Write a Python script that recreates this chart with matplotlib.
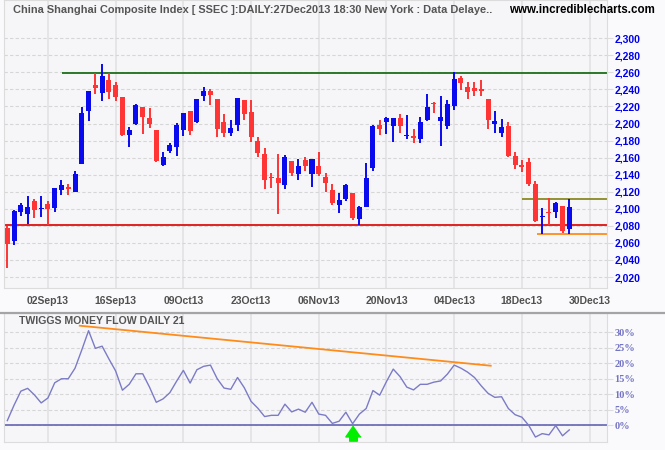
import matplotlib
matplotlib.use('Agg')
import matplotlib.pyplot as plt
from matplotlib.lines import Line2D

# Daily OHLC, SSEC 23Aug13 .. 27Dec13 (one entry per trading day)
opens = [2077.5, 2062.6, 2096.7, 2094.3, 2109.2, 2099.2, 2105.7, 2101.4, 2122.5, 2126.0,
         2120.1, 2153.0, 2215.1, 2245.2, 2236.3, 2251.1, 2245.2, 2230.8, 2187.0, 2199.9,
         2219.4, 2206.5, 2192.5, 2151.4, 2168.2, 2172.9, 2192.9, 2214.7, 2202.2, 2232.7,
         2238.2, 2228.8, 2201.8, 2189.3, 2198.7, 2227.6, 2213.6, 2179.6, 2164.3, 2136.4,
         2136.2, 2128.3, 2156.1, 2140.8, 2157.3, 2140.8, 2150.2, 2137.3, 2122.1, 2104.5,
         2111.5, 2118.6, 2088.1, 2102.5, 2148.3, 2198.3, 2201.8, 2197.2, 2206.5, 2185.6,
         2185.4, 2182.3, 2204.6, 2224.0, 2203.0, 2197.2, 2221.0, 2253.5, 2242.9, 2241.7,
         2240.6, 2228.8, 2199.5, 2188.9, 2197.2, 2162.0, 2151.4, 2154.9, 2129.1, 2089.8,
         2095.4, 2096.7, 2103.3, 2076.3]
highs = [2080.3, 2098.6, 2106.8, 2115.0, 2111.5, 2115.0, 2109.2, 2124.4, 2133.8, 2129.1,
         2144.4, 2219.4, 2238.2, 2258.9, 2269.9, 2258.9, 2248.8, 2230.8, 2195.6, 2223.0,
         2219.4, 2217.9, 2192.5, 2166.7, 2177.2, 2200.7, 2212.4, 2214.7, 2228.8, 2243.3,
         2240.6, 2228.8, 2211.2, 2204.2, 2230.0, 2227.6, 2227.6, 2184.2, 2171.3, 2142.0,
         2164.3, 2163.1, 2156.1, 2158.4, 2160.8, 2158.4, 2166.7, 2142.0, 2129.1, 2118.6,
         2129.1, 2118.6, 2103.3, 2153.8, 2198.3, 2204.2, 2207.7, 2206.5, 2211.2, 2210.1,
         2193.6, 2207.7, 2234.7, 2225.7, 2232.3, 2227.6, 2260.5, 2255.8, 2248.8, 2248.8,
         2251.1, 2228.8, 2214.7, 2205.4, 2201.8, 2166.7, 2157.3, 2159.6, 2132.6, 2101.0,
         2112.7, 2108.0, 2103.3, 2111.5]
lows = [2031.0, 2057.6, 2092.0, 2082.6, 2089.6, 2090.8, 2081.0, 2096.3, 2116.2, 2116.6,
        2120.1, 2153.0, 2203.4, 2234.3, 2226.9, 2229.2, 2226.9, 2185.8, 2172.9, 2198.7,
        2188.2, 2195.2, 2155.3, 2150.2, 2165.9, 2162.3, 2185.8, 2187.0, 2201.0, 2226.9,
        2222.2, 2184.6, 2184.6, 2185.8, 2191.7, 2204.6, 2178.8, 2161.2, 2123.6, 2124.8,
        2094.3, 2123.6, 2138.9, 2134.2, 2144.8, 2126.0, 2138.9, 2120.1, 2104.5, 2095.1,
        2109.2, 2086.9, 2081.0, 2102.5, 2144.8, 2187.0, 2188.2, 2178.8, 2189.3, 2182.3,
        2177.2, 2177.6, 2203.4, 2212.8, 2173.7, 2193.6, 2216.3, 2239.4, 2228.8, 2232.3,
        2232.3, 2194.0, 2188.9, 2184.3, 2160.8, 2146.7, 2143.2, 2126.8, 2084.5, 2070.1,
        2081.0, 2089.6, 2071.6, 2070.5]
closes = [2059.1, 2097.4, 2104.5, 2102.1, 2098.6, 2099.6, 2100.2, 2124.4, 2127.9, 2123.6,
          2140.8, 2212.4, 2238.2, 2242.1, 2255.8, 2237.4, 2231.6, 2187.0, 2192.5, 2221.8,
          2208.1, 2199.9, 2156.5, 2160.8, 2174.9, 2198.3, 2212.4, 2191.7, 2228.8, 2238.2,
          2233.9, 2194.0, 2189.3, 2194.8, 2230.0, 2211.6, 2184.6, 2165.9, 2134.2, 2136.0,
          2130.7, 2160.8, 2142.4, 2150.2, 2150.2, 2158.4, 2140.8, 2130.7, 2106.8, 2110.3,
          2127.9, 2089.2, 2102.1, 2136.2, 2197.2, 2194.0, 2206.5, 2206.5, 2197.2, 2186.0,
          2183.5, 2201.8, 2219.4, 2223.0, 2207.7, 2223.0, 2252.3, 2247.6, 2237.0, 2238.6,
          2238.2, 2204.2, 2203.0, 2196.0, 2162.0, 2151.4, 2149.1, 2129.1, 2085.7, 2090.6,
          2094.8, 2106.8, 2074.0, 2102.1]

# Twiggs Money Flow (21), percent
tmf = [1.5, 6.5, 11.0, 11.9, 9.8, 7.2, 8.8, 13.7, 15.0, 15.0,
       18.4, 24.3, 30.5, 24.8, 25.5, 21.4, 17.5, 11.3, 13.2, 16.6,
       16.6, 12.3, 7.4, 8.5, 10.5, 14.2, 17.7, 13.6, 17.9, 19.0,
       19.4, 15.0, 12.0, 11.6, 15.4, 12.1, 7.7, 5.5, 2.8, 3.2,
       3.2, 6.8, 4.3, 5.2, 4.2, 7.4, 3.6, 3.2, 0.6, 1.3,
       4.2, 0.5, 3.6, 5.4, 11.2, 9.7, 14.1, 18.1, 15.7, 12.3,
       11.4, 13.2, 13.2, 13.9, 14.3, 16.5, 19.4, 18.4, 17.1, 15.4,
       12.7, 10.3, 9.0, 9.2, 5.4, 3.4, 2.6, 0.0, -3.8, -2.7,
       -3.1, -0.1, -3.4, -1.5]

date_ticks = [6, 16, 26, 36, 46, 56, 66, 76, 86]
date_labels = ['02Sep13', '16Sep13', '09Oct13', '23Oct13', '06Nov13',
               '20Nov13', '04Dec13', '18Dec13', '30Dec13']
price_ticks = list(range(2020, 2301, 20))
pct_ticks = [0, 5, 10, 15, 20, 25, 30]

# support / resistance lines: (level, first bar)
resistance = (2259.5, 8.1)
support = (2081.0, -0.5)
range_top = (2111.0, 76.0)
range_bottom = (2070.0, 78.2)
# declining TMF peaks
tmf_trend_x = [10.7, 71.4]
tmf_trend_y = [32.1, 19.2]
signal_bar, signal_val = 51, -2.5

UP, DOWN = '#0a0aee', '#ff3434'
XL = (-0.49, 88.57)

plt.rcParams['font.family'] = ['Liberation Sans', 'DejaVu Sans']
fig = plt.figure(figsize=(6.65, 4.5), dpi=100, facecolor='#fafafc')
ax = fig.add_axes([4/665, 1 - 288/450, 603/665, 288/450], facecolor='#f6f6f9')
ax2 = fig.add_axes([4/665, 1 - 442/450, 603/665, 129/450], facecolor='#f6f6f9')

# candles
for i in range(len(opens)):
    o, h, l, c = opens[i], highs[i], lows[i], closes[i]
    col = UP if c >= o else DOWN
    ax.vlines(i, l, h, color=col, lw=1.4, zorder=3)
    ax.bar(i, max(abs(c - o), 1.3), bottom=min(o, c), width=0.74,
           color=col, linewidth=0, zorder=4)

ax.hlines(resistance[0], resistance[1], XL[1], color='#1a6e1a', lw=1.3, zorder=2)
ax.hlines(support[0], support[1], XL[1], color='#dd1111', lw=1.3, zorder=2)
ax.hlines(range_top[0], range_top[1], XL[1], color='#8a8a22', lw=1.3, zorder=2)
ax.hlines(range_bottom[0], range_bottom[1], XL[1], color='#ff8c1a', lw=1.3, zorder=2)

ax.set_xlim(*XL)
ax.set_ylim(2007.1, 2344.9)
ax.yaxis.tick_right()
ax.set_yticks(price_ticks)
ax.set_yticklabels([f'{v:,}' for v in price_ticks])
ax.set_xticks(date_ticks)
ax.set_xticklabels(date_labels)
ax.tick_params(axis='y', length=4, color='#dddddd', pad=1.5, labelcolor='#0000ee',
               labelsize=7.5)
ax.tick_params(axis='x', length=0, pad=5.5, labelcolor='#505050', labelsize=7.5)
for t in ax.get_yticklabels() + ax.get_xticklabels():
    t.set_fontweight('bold')
ax.grid(axis='y', ls=(0, (3, 2)), color='#d6d6d6', lw=0.8, zorder=0)
ax.grid(axis='x', color='#e4e4e6', lw=1.3, zorder=0)
for s in ax.spines.values():
    s.set_color('#dcdcdc')

# indicator panel
x = list(range(len(tmf)))
ax2.axhline(0, color='#6f6fb8', lw=1.3, zorder=2)
ax2.plot(x, tmf, color='#7b7bc6', lw=1.0, zorder=3)
ax2.plot(tmf_trend_x, tmf_trend_y, color='#ff8c1a', lw=1.3, zorder=3)
arrow = [(0, 1), (-1, -0.45), (-0.5, -0.45), (-0.5, -1), (0.5, -1), (0.5, -0.45), (1, -0.45)]
ax2.plot(signal_bar, signal_val, marker=arrow, ms=11, color='#00ee00', mec='#00ee00',
         zorder=5)
ax2.set_xlim(*XL)
ax2.set_ylim(-5.4, 36.2)
ax2.yaxis.tick_right()
ax2.set_yticks(pct_ticks)
ax2.set_yticklabels([f'{v}%' for v in pct_ticks], family='Liberation Serif',
                    fontweight='bold')
ax2.set_xticks(date_ticks)
ax2.set_xticklabels([])
ax2.tick_params(axis='y', length=4, color='#dddddd', pad=1.5, labelcolor='#7474c4',
                labelsize=7.5)
ax2.tick_params(axis='x', length=0)
ax2.grid(axis='y', ls=(0, (3, 2)), color='#d6d6d6', lw=0.8, zorder=0)
ax2.grid(axis='x', color='#e4e4e6', lw=1.3, zorder=0)
for s in ax2.spines.values():
    s.set_color('#dcdcdc')
ax2.text(15/603, 1 - 8.3/129, 'TWIGGS MONEY FLOW DAILY 21', transform=ax2.transAxes,
         fontsize=7.6, fontweight='bold', color='#555555', va='center', ha='left')

fig.add_artist(Line2D([0, 1], [1 - 313/450] * 2, color='#a4a4a4', lw=1.6))

fig.text(13/665, 1 - 10/450,
         'China Shanghai Composite Index [ SSEC ]:DAILY:27Dec2013 18:30 New York : Data Delaye..',
         fontweight='bold', fontsize=7.9, color='#555555', va='center', ha='left')
fig.text(655/665, 1 - 10/450, 'www.incrediblecharts.com', fontsize=8.3,
         fontweight='bold', color='black', va='center', ha='right')

fig.savefig('out.png', dpi=100, facecolor=fig.get_facecolor())
